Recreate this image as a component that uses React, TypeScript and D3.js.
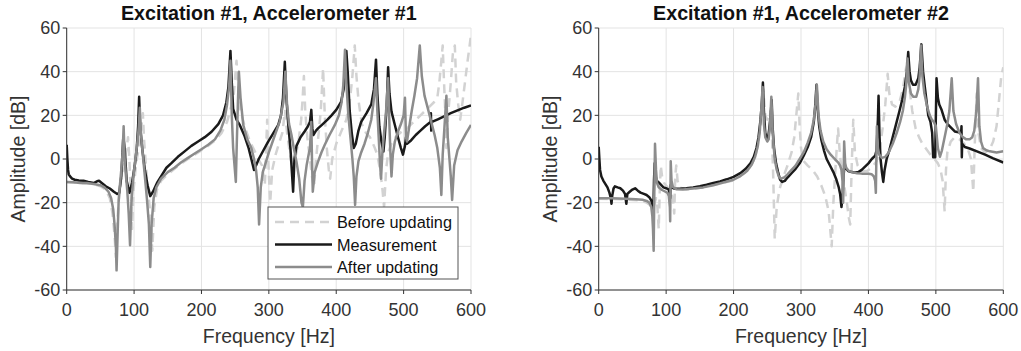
import React from "react";
import * as d3 from "d3";

const width = 1021;
const height = 351;
const top = 28;
const bottom = 290;
const panels = [
  { left: 66.7, right: 471, title: "Excitation #1, Accelerometer #1", legend: true },
  { left: 598.7, right: 1003.3, title: "Excitation #1, Accelerometer #2", legend: false },
];

const xTicks = [0, 100, 200, 300, 400, 500, 600];
const yTicks = [-60, -40, -20, 0, 20, 40, 60];

const seriesNames = ["Before updating", "Measurement", "After updating"];

// accelerometer #1, [Hz, dB]
const before1 = [
  [0, -10.5], [20, -11], [40, -11.5], [50, -12.5], [58, -14], [64, -18], [68, -25], [71, -35], [73, -45],
  [75, -30], [78, -15], [82, -7], [86, 0], [89, 5], [91, 10], [93, 0], [95, -15], [97, -32], [99, -15],
  [103, -2], [107, 5], [110, 12], [113, 21], [115, 8], [118, -5], [121, -15], [124, -25], [127, -42],
  [130, -22], [134, -14], [140, -10], [150, -7], [160, -4.5], [170, -2], [180, 0], [190, 2], [200, 4],
  [210, 6], [220, 8.5], [230, 12], [238, 17], [244, 24], [248, 30], [252, 45], [254, 35], [258, 22],
  [264, 15], [272, 8], [280, 3], [286, -1], [290, -3], [294, -12], [296, 5], [297.5, 18], [299, 0],
  [302, -20], [305, -5], [310, 2], [316, 8], [320, 12], [324, 22], [327, 12], [331, 3], [335, -5],
  [339, 0], [344, 8], [348, 18], [350, 27], [352, 38], [354, 22], [357, 10], [361, 0], [364, -8],
  [367, -13], [370, 0], [374, 12], [377, 22], [380.5, 41.5], [383, 20], [386, 5], [389, -5], [391, -9],
  [394, 0], [400, 7], [408, 13], [415, 18], [420, 26], [424, 38], [427.5, 52], [430, 38], [433, 27],
  [438, 16], [444, 12], [450, 10], [456, 6], [461, 2], [465, -5], [468, -12], [471, -22], [474, -5],
  [477, 3], [482, 7], [488, 10], [495, 12], [505, 14], [515, 17], [525, 20], [535, 23], [545, 26],
  [550, 28], [553, 35], [556, 45], [558, 52], [560, 35], [562, 20], [563.5, 5], [566, 20], [570, 35],
  [573, 48], [576, 52], [578, 35], [581, 25], [584, 18], [587, 25], [591, 35], [595, 45], [598, 52],
  [600, 57],
];

const measured1 = [
  [0, 6.5], [1, 0], [2, -5], [3, -7], [5, -8], [8, -9], [12, -9.5], [18, -9.8], [25, -10], [32, -10.5],
  [40, -11], [45, -10.2], [48, -10], [52, -11], [58, -12.5], [64, -13.5], [70, -15], [75, -16],
  [78, -15.5], [81, -8], [84, 10], [86, 5], [89, -10], [93, -15.5], [97, -11], [101, -3], [104, 5],
  [106, 15], [107.5, 28.5], [109, 15], [112, 5], [116, -5], [120, -12], [124, -17], [128, -15],
  [134, -11], [140, -8], [148, -4], [155, -2], [165, 1], [175, 3.5], [185, 6], [195, 8], [205, 10],
  [215, 12.5], [225, 16], [232, 20], [237, 26], [240, 33], [243, 49.5], [245, 35], [247, 23],
  [252, 18], [257, 15.5], [264, 10.5], [270, 5], [274, 0], [278, -5], [281, -3], [285, 0], [292, 4],
  [299, 8], [306, 11.5], [314, 15.6], [318, 20], [321, 28], [323.7, 44.5], [326, 28], [329, 15],
  [332, 5], [334, -5], [336, -15], [338, 0], [341, 6], [347, 10], [353, 12.6], [358, 15], [361, 17],
  [363, 22.5], [364.5, 14], [366, 11], [370, 13], [373, 14], [380, 16], [387, 18], [393, 20],
  [400, 22.5], [407, 26], [411, 32], [413, 40], [415, 49.5], [417, 40], [420, 22], [423, 12], [426, 5],
  [429, 7], [433, 13], [437, 17], [445, 21], [452, 25], [456, 32], [459, 45.5], [461, 30], [464, 15],
  [467, 8], [470, 3.4], [472, 10], [475, 25], [477, 42], [479, 30], [482, 21.7], [487, 15.6],
  [492, 9.5], [496, 5], [499, 2], [502, 6], [503.5, 10], [505, 7], [511, 8.5], [518, 11], [525, 13],
  [532, 15], [538, 16.5], [540, 17], [540.5, 21], [541, 13], [542, 17], [551.6, 18.3], [560, 19.5],
  [570, 21], [580, 22.3], [590, 23.5], [600, 24.5],
];

const after1 = [
  [0, -10.5], [10, -10.7], [20, -11], [30, -11], [40, -11.5], [50, -12], [56, -13], [62, -15], [66, -18],
  [69, -23], [71, -30], [73, -40], [74, -51], [75.5, -35], [77, -20], [79, -12], [81, -5], [83, 3],
  [84.5, 15], [86, 0], [88, -8], [90, -15], [92, -25], [94, -39.5], [96, -20], [99, -8], [102, 0],
  [105, 8], [107, 15], [108.5, 23.5], [110, 12], [113, 2], [116, -8], [119, -18], [122, -30],
  [124, -49.5], [126, -30], [129, -18], [133, -13], [140, -9], [150, -6], [160, -4], [170, -1.5],
  [180, 0.5], [190, 2.5], [200, 4.5], [210, 6.5], [220, 9], [228, 13], [234, 18], [238, 25], [241, 33],
  [243, 45], [245, 20], [247, 5], [251, -10.5], [252.5, 8], [254, 25], [255.5, 40], [258, 28],
  [262, 15.6], [268, 9], [274, 5], [278, 0], [281, -5], [283.5, -13], [285.5, -30], [288, -13],
  [291, -6], [294, -3], [300, 3], [309, 11], [316, 17], [321.6, 26], [324.5, 40], [327, 25], [330, 16],
  [333.6, 11], [337, 5], [341, -1.2], [345, -9], [348.4, -20], [350.5, -22], [353, -10], [356, -3],
  [359, 2], [361, 5], [363, 17], [364, 0], [365.2, -15], [368, -6], [373, -1.2], [378, 3], [383, 6.5],
  [390, 11], [398, 15.6], [404, 20], [408, 26], [410.5, 34], [413, 50], [415, 35], [418, 20],
  [421, 10], [424, 0], [426, -8], [428, -21], [430, -8], [433, -1], [437, 3], [442, 7], [447, 12],
  [452, 18], [455, 25], [459, 37], [461, 22], [463, 10], [465, -2], [466.5, -9], [468.5, 3],
  [471, 12], [474, 22], [477, 37], [479, 15], [480.5, 2], [482, -8], [484, 2], [487, 8], [491, 12],
  [496, 16], [500, 20], [502, 28], [503.5, 10], [505, 8], [508, 14], [512, 22], [516, 29], [520, 37],
  [524, 52], [527, 38], [531, 29], [537, 21.9], [541, 17], [546, 11], [550, 5], [553.8, -4],
  [556, -16.5], [558, 2], [560.5, 14], [563.5, 29], [565.5, 10], [568, 0], [570, -8], [572, -18.8],
  [575, -3], [580, 4], [586, 8], [593, 12], [600, 15.6],
];

// accelerometer #2, [Hz, dB]
const before2 = [
  [0, -18.2], [20, -18.3], [40, -18.5], [60, -19], [70, -19.8], [76, -21], [80, -23], [83, -20],
  [85, -18], [87, -22], [89, -32], [90.5, -15], [92, -3], [94, -8], [97, -11], [102, -13], [107, -15],
  [110, -18], [112, -25], [113.5, -8], [115, -3], [117, -10], [120, -13], [130, -14], [150, -13.2],
  [175, -11.5], [200, -9.8], [220, -5.8], [232, 0.5], [238, 10], [242, 25], [244, 32], [247, 20],
  [250, 18], [253, 20], [255, 22], [257, 10], [259, -10], [261, -36.5], [264, -22], [268, -14],
  [274, -8], [280, -3], [286, 3], [290, 10], [293, 20], [296, 30], [298, 15], [300, 5], [304, -1],
  [310, -3], [317, -5], [324, -8], [330, -12], [336, -17], [341, -24], [345.5, -40], [348, -20],
  [351, -5], [353, 5], [355, 14], [357, 5], [360, -5], [364, -12], [368, -20], [371, -27], [373, -30],
  [375, -5], [377.5, 18], [380, 3], [384, -3], [390, -5.5], [398, -5.5], [405, -4], [412, -1],
  [417, 5], [421, 14], [425, 25], [428.5, 39], [431, 30], [435, 25], [440, 24], [446, 26], [451, 32],
  [455, 40], [458, 46], [461, 32], [465, 22], [470, 14], [475, 10], [480, 7], [486, 4.5], [492, 2],
  [498, 0], [503, -2], [507, -5], [510, -10], [513, -24], [515, -5], [517, 3], [522, 8], [528, 10],
  [535, 9], [542, 7], [548, 4], [552, 0], [555.5, -15], [557.5, 5], [560.5, 30], [563, 12], [567, 5],
  [573, 3], [580, 4.5], [585, 8], [590, 15], [594, 28], [597, 38], [600, 42],
];

const measured2 = [
  [0, 5.6], [1, 0], [2, -5], [4, -8], [7, -10], [10, -11.5], [13, -13], [16, -15.5], [18, -18],
  [19, -20.5], [20, -17], [22, -13.5], [24, -12.5], [28, -13], [32, -13.4], [36, -14.5], [39, -16],
  [41, -20.5], [42.5, -16], [46, -15], [50, -14], [54, -13.4], [58, -14.5], [62, -15.4], [67, -16],
  [71, -16.5], [75, -17.5], [78, -19], [80, -22], [81, -25], [82, -10], [83, -2], [84.5, -8],
  [86, -10], [90, -11], [96, -13], [101, -13.5], [104, -14], [106, -18], [106.5, -12], [108, -13],
  [112, -13.5], [120, -13.6], [130, -13.4], [140, -13], [150, -12.5], [160, -11.8], [170, -11],
  [180, -10.3], [190, -9.3], [200, -8.2], [210, -6.5], [218, -4.5], [225, -2], [230, 1], [234, 5],
  [237, 10], [240, 18], [242, 26], [243.5, 35], [245, 22], [247, 12], [249, 10], [251, 9], [253, 14],
  [255, 20], [256.5, 27], [258, 14], [260, 5], [263, -2], [266, -6], [269, -9.5], [272, -10.5],
  [276, -10], [280, -8.5], [286, -6.5], [292, -4.5], [298, -2], [304, 1.5], [310, 5.5], [315, 10],
  [319, 17], [321, 24], [323, 34], [325, 22], [327, 15], [330, 9], [334, 4], [338, 0], [343, -3],
  [348, -6], [352, -9], [356, -13], [358, -16], [360, -22], [361.5, -18], [363, -8], [364.5, -3],
  [366, -4], [370, -5.5], [375, -6], [380, -6.2], [385, -6], [390, -5], [395, -3.5], [400, -2],
  [405, 0], [410, 1.5], [412, 4], [414, 18], [415, 29], [416.5, 10], [418, 0], [420, -6], [422, -10.5],
  [424, -5], [427, 0], [431, 4], [436, 10], [441, 16], [446, 22], [450, 27], [454, 33], [457, 40],
  [459, 49], [461, 40], [463, 36], [466, 34], [470, 34], [474, 37], [476, 42], [478.5, 52.5],
  [481, 40], [484, 32], [488.7, 20], [492, 17], [494.5, 12], [496, 0.8], [499, 0.8], [500, 20],
  [501, 37], [503, 28], [505, 25], [508.6, 22.4], [513, 18], [518.4, 15.6], [528, 12.6], [537.5, 12],
  [538, 15], [538.5, 0.8], [539, 7], [543, 5.5], [550, 4.8], [560, 3.6], [573, 2], [585, 0.3],
  [600, -1.6],
];

const after2 = [
  [0, -18], [20, -18], [40, -18.2], [55, -18.4], [65, -18.7], [71, -19.2], [75, -20], [78, -22],
  [79.5, -26], [80.5, -32], [81.5, -42], [82.5, -15], [83.5, 7], [85, -5], [86.5, -11], [89, -13],
  [94, -14.2], [99, -15], [102, -15.5], [104, -17], [105.5, -22], [106, -28.5], [106.8, -1],
  [108, -10], [110, -12.8], [115, -13.8], [125, -14], [140, -13.5], [155, -13], [170, -12],
  [185, -10.8], [200, -9.5], [210, -7.8], [220, -5.5], [227, -2.5], [232, 1], [236, 6], [239, 13],
  [241, 22], [243, 33], [245, 16], [247, 10], [250, 8], [252, 9], [254, 15], [256, 28.5], [258, 12],
  [261, 0], [264, -5], [267, -8], [270, -9], [275, -8.5], [280, -7], [286, -5], [292, -3], [298, 0],
  [304, 3], [310, 7.5], [315, 12], [319, 18], [321.5, 25], [323.5, 34], [326, 20], [329, 13],
  [333, 8], [338, 4.5], [344, 2], [350, 0], [355, -1.5], [358, -3], [360, -5], [361.5, -10],
  [362.5, -20], [364, 8], [365.5, -2], [367, -4], [371, -5.5], [376, -6], [383, -6.5], [390, -6.7],
  [400, -6.8], [405, -7], [408, -8], [410, -10], [411, -15.5], [412.5, 15], [414, 5], [416, 2],
  [420, 0.5], [425, 1], [430, 3], [436, 7], [442, 12], [447, 17], [451, 22], [454, 28], [456, 34],
  [458, 46], [460, 35], [463, 30], [466.5, 28.5], [471, 28.5], [474, 32], [476, 38], [478, 52],
  [480, 38], [483, 30], [487, 24], [491, 20], [494, 18], [497, 17], [500, 15], [503, 5], [506, 1],
  [509, 4], [513, 10], [517, 16], [520, 22], [523.5, 37], [526, 22], [530, 16], [535, 12], [540, 10],
  [545, 9], [550, 9], [554, 10], [557, 13], [560, 22], [562.5, 37], [564.5, 15], [567, 8], [570, 5],
  [575, 4], [580, 3.5], [590, 3], [600, 3.5],
];

const panelData = [
  [before1, measured1, after1],
  [before2, measured2, after2],
];

const styles = [
  { stroke: "#d2d2d2", width: 2.5, dash: "9,6" },
  { stroke: "#1a1a1a", width: 2.5, dash: undefined },
  { stroke: "#8c8c8c", width: 2.5, dash: undefined },
];

const font = "'Liberation Sans', Arial, Helvetica, sans-serif";
const axisColor = "#333";

function Panel({ p, data, idx }) {
  const x = d3.scaleLinear().domain([0, 600]).range([p.left, p.right]);
  const y = d3.scaleLinear().domain([-60, 60]).range([bottom, top]);
  const line = d3
    .line()
    .x(d => x(d[0]))
    .y(d => y(d[1]));
  const cx = (p.left + p.right) / 2;
  const cy = (top + bottom) / 2;
  const clipId = `clip-${idx}`;

  return (
    <g>
      <clipPath id={clipId}>
        <rect x={p.left} y={top - 2} width={p.right - p.left} height={bottom - top + 2} />
      </clipPath>

      {/* grid */}
      {xTicks.map(t => (
        <line key={"gx" + t} x1={x(t)} x2={x(t)} y1={top} y2={bottom} stroke="#e3e3e3" strokeWidth={1} />
      ))}
      {yTicks.map(t => (
        <line key={"gy" + t} x1={p.left} x2={p.right} y1={y(t)} y2={y(t)} stroke="#e3e3e3" strokeWidth={1} />
      ))}

      {/* curves */}
      <g clipPath={`url(#${clipId})`}>
        {data.map((s, i) => (
          <path
            key={i}
            d={line(s)}
            fill="none"
            stroke={styles[i].stroke}
            strokeWidth={styles[i].width}
            strokeDasharray={styles[i].dash}
            strokeLinejoin="round"
          />
        ))}
      </g>

      {/* axes */}
      <line x1={p.left} x2={p.left} y1={top} y2={bottom} stroke={axisColor} strokeWidth={1} />
      <line x1={p.left} x2={p.right} y1={bottom} y2={bottom} stroke={axisColor} strokeWidth={1} />
      {xTicks.map(t => (
        <g key={"tx" + t}>
          <line x1={x(t)} x2={x(t)} y1={bottom} y2={bottom + 4} stroke={axisColor} />
          <text x={x(t)} y={315.5} textAnchor="middle" fontSize={18} fill={axisColor} fontFamily={font}>
            {t}
          </text>
        </g>
      ))}
      {yTicks.map(t => (
        <g key={"ty" + t}>
          <line x1={p.left - 4} x2={p.left} y1={y(t)} y2={y(t)} stroke={axisColor} />
          <text x={p.left - 6.5} y={y(t) + 6.3} textAnchor="end" fontSize={18} fill={axisColor} fontFamily={font}>
            {t}
          </text>
        </g>
      ))}

      {/* labels */}
      <text x={cx} y={343} textAnchor="middle" fontSize={19.5} fill={axisColor} fontFamily={font}>
        Frequency [Hz]
      </text>
      <text
        transform={`translate(${p.left - 42},${cy}) rotate(-90)`}
        textAnchor="middle"
        fontSize={19.5}
        fill={axisColor}
        fontFamily={font}
      >
        Amplitude [dB]
      </text>
      <text x={cx} y={19.5} textAnchor="middle" fontSize={19.7} fontWeight="bold" fill="#111" fontFamily={font}>
        {p.title}
      </text>

      {/* legend */}
      {p.legend && (
        <g>
          <rect x={268} y={207} width={190} height={72} fill="white" stroke="#555" strokeWidth={1} />
          {seriesNames.map((name, i) => (
            <g key={name}>
              <line
                x1={275}
                x2={332}
                y1={222 + i * 22.5}
                y2={222 + i * 22.5}
                stroke={styles[i].stroke}
                strokeWidth={styles[i].width}
                strokeDasharray={styles[i].dash}
              />
              <text x={337} y={222 + i * 22.5 + 6} fontSize={16.3} fill="#111" fontFamily={font}>
                {name}
              </text>
            </g>
          ))}
        </g>
      )}
    </g>
  );
}

export default function App() {
  return (
    <div style={{ position: "absolute", left: 0, top: 0 }}>
      <svg width={width} height={height} style={{ display: "block", background: "white" }}>
        {panels.map((p, i) => (
          <Panel key={i} p={p} data={panelData[i]} idx={i} />
        ))}
      </svg>
    </div>
  );
}
